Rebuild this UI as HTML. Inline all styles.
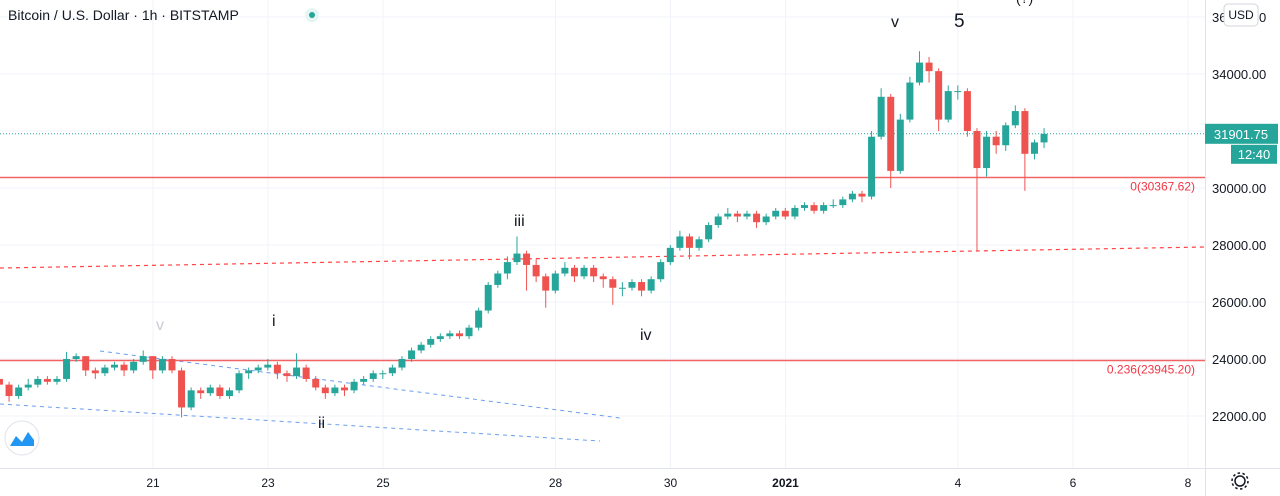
<!DOCTYPE html>
<html><head><meta charset="utf-8"><style>
body{margin:0;background:#fff;font-family:"Liberation Sans",sans-serif;}
svg{display:block}
</style></head><body>
<svg id="chart" width="1280" height="496" viewBox="0 0 1280 496" xmlns="http://www.w3.org/2000/svg">
<rect x="0" y="0" width="1280" height="496" fill="#fff"/>
<g id="grid"></g>
<g id="lines"></g>
<g id="candles"></g>
<g id="axis"></g>
<g id="xaxis"></g>
<text x="8" y="20" font-size="14" fill="#131722">Bitcoin / U.S. Dollar · 1h · BITSTAMP</text>
<circle cx="312" cy="15" r="7" fill="#e6f6f3"/>
<circle cx="312" cy="15" r="3" fill="#26a69a"/>
<g font-size="16" fill="#131722">
<text x="156" y="330" fill="#c8ccd4">v</text>
<text x="272" y="326">i</text>
<text x="318" y="428">ii</text>
<text x="514" y="226">iii</text>
<text x="640" y="340">iv</text>
<text x="891" y="27">v</text>
<text x="954" y="27" font-size="19">5</text>
<text x="1016" y="3" font-size="14">(?)</text>
</g>
<g>
<circle cx="22" cy="438" r="17" fill="#fff" stroke="#e0e3eb"/>
<path d="M10 446 L16 436 L22 442 L28 432 L34 440 L34 446 Z" fill="#2196f3"/>
</g>
<rect x="1224" y="4" width="34" height="22" rx="4" fill="#fff" stroke="#d1d4dc"/>
<text x="1241" y="19" font-size="12" text-anchor="middle" fill="#131722">USD</text>
<g>
<circle cx="1240" cy="481" r="5" fill="none" stroke="#131722" stroke-width="1.5"/>
<circle cx="1240" cy="481" r="8" fill="none" stroke="#131722" stroke-width="1.5" stroke-dasharray="2.5 2.5"/>
</g>
</svg>
<script>
const priceTicks=[22000,24000,26000,28000,30000,32000,34000,36000];
const dateLabels=["21","23","25","28","30","2021","4","6","8"];
const dateDays=[21,23,25,28,30,32,35,37,39];
const closes=[23100,22700,23000,23100,23300,23200,23300,24000,24100,23600,23500,23700,23800,23600,23900,24100,23600,24000,23600,22300,22900,22800,23000,22700,22900,23500,23600,23700,23800,23500,23400,23700,23300,23000,22800,23000,22900,23200,23300,23500,23500,23700,24000,24300,24500,24700,24800,24900,24800,25100,25700,26600,27000,27400,27700,27300,26900,26400,27000,27200,26900,27200,26900,26800,26500,26500,26700,26400,26800,27400,27900,28300,27900,28200,28700,29000,29100,29000,29100,28800,29000,29200,29000,29300,29400,29200,29400,29400,29600,29800,29700,31800,33200,30600,32400,33700,34400,34100,32400,33400,33400,32000,30700,31800,31500,32200,32700,31200,31600,31900];
const highs=[23400,23200,23100,23300,23400,23400,23400,24250,24200,24100,23700,23800,23900,23900,24000,24300,24100,24100,24100,23700,23000,23000,23100,23100,23000,23600,23700,23800,24000,23900,23600,24200,23800,23400,23100,23100,23100,23300,23400,23600,23600,23800,24100,24400,24600,24800,24900,25000,25000,25200,25800,26700,27100,27600,28300,27800,27500,27000,27100,27400,27300,27300,27300,27000,26900,26700,26800,26800,26900,27500,28000,28500,28400,28300,28800,29100,29300,29200,29200,29200,29100,29300,29300,29400,29500,29500,29500,29600,29700,29900,29900,32000,33500,33300,32600,33900,34800,34600,34200,33600,33600,33500,32100,32000,32000,32300,32900,32800,31700,32100];
const lows=[22900,22500,22600,22900,23000,23100,23100,23200,23900,23400,23300,23400,23600,23400,23500,23800,23300,23500,23500,21950,22200,22600,22700,22600,22600,22800,23300,23500,23600,23300,23200,23300,23200,22900,22600,22700,22700,22800,23100,23200,23300,23400,23600,23900,24200,24400,24600,24700,24700,24700,25000,25600,26500,26800,27300,26400,26700,25800,26300,26900,26700,26800,26700,26500,25900,26200,26400,26200,26300,26700,27300,27800,27500,27800,28100,28600,28900,28800,28900,28600,28700,28900,28900,28900,29200,29100,29100,29300,29300,29500,29500,29600,31700,30000,30500,32300,33600,33700,32000,32300,33100,31800,27800,30400,31200,31300,32100,29900,31000,31400];

const NS="http://www.w3.org/2000/svg";
const PLOT_R=1205;
function yOf(p){return 188-(p-30000)*57/2000;}
function xOfDay(d){return 153+(d-21)*57.5;}
const startDay=18.33, step=1/6;
function xOfIdx(i){return xOfDay(startDay+i*step);}
function el(tag,attrs,parent){const e=document.createElementNS(NS,tag);for(const k in attrs)e.setAttribute(k,attrs[k]);parent.appendChild(e);return e;}

const grid=document.getElementById('grid');
const axis=document.getElementById('axis');
const xaxis=document.getElementById('xaxis');
priceTicks.forEach(p=>{
  const y=yOf(p);
  const g=el('line',{x1:0,x2:PLOT_R,y1:y,y2:y,stroke:'#f0f3fa','stroke-width':1},grid);
  
  
  const t=el('text',{x:1212,y:y+5,'font-size':13,fill:'#131722'},axis);
  t.textContent=p.toFixed(2);
  
  
});
dateDays.forEach((d,i)=>{
  const x=xOfDay(d);
  const g=el('line',{x1:x,x2:x,y1:0,y2:468,stroke:'#f0f3fa','stroke-width':1},grid);
  
  
  const t=el('text',{x:x,y:487,'font-size':12,fill:'#131722','text-anchor':'middle','font-weight':dateLabels[i]==='2021'?'bold':'normal'},xaxis);
  t.textContent=dateLabels[i];
  
  
});
const ax=el('line',{x1:PLOT_R+0.5,x2:PLOT_R+0.5,y1:0,y2:496,stroke:'#e0e3eb'},axis);


const bx=el('line',{x1:0,x2:1280,y1:468.5,y2:468.5,stroke:'#e0e3eb'},axis);



const lines=document.getElementById('lines');
function ln(a,name){const e=el('line',a,lines);return e;}
ln({x1:0,y1:268,x2:PLOT_R,y2:247,stroke:'#f44','stroke-width':1.2,'stroke-dasharray':'4 4'},'dashed-trendline-red');
ln({x1:100,y1:351,x2:620,y2:418,stroke:'#6b9ef0','stroke-width':1,'stroke-dasharray':'4 4'},'wedge-upper-line');
ln({x1:0,y1:404,x2:600,y2:441,stroke:'#6b9ef0','stroke-width':1,'stroke-dasharray':'4 4'},'wedge-lower-line');
const fib0=30367.62, fib236=23945.20, last=31901.75;
ln({x1:0,y1:yOf(fib0),x2:PLOT_R,y2:yOf(fib0),stroke:'#f26464','stroke-width':1.5},'fib-level-0');
ln({x1:0,y1:yOf(fib236),x2:PLOT_R,y2:yOf(fib236),stroke:'#f26464','stroke-width':1.5},'fib-level-0236');
ln({x1:0,y1:yOf(last),x2:PLOT_R,y2:yOf(last),stroke:'#26a69a','stroke-width':1,'stroke-dasharray':'1 2'},'last-price-line');
function lbl(x,y,txt,name){const t=el('text',{x:x,y:y,'font-size':12,fill:'#f23645','text-anchor':'end'},lines);t.textContent=txt;}
lbl(1195,yOf(fib0)+13,'0('+fib0.toFixed(2)+')','fib-0-label');
lbl(1195,yOf(fib236)+13,'0.236('+fib236.toFixed(2)+')','fib-0236-label');

const cg=document.getElementById('candles');
let prev=23300;
closes.forEach((c,i)=>{
  const o=prev; prev=c;
  const x=xOfIdx(i);
  const col=c>=o?'#26a69a':'#ef5350';
  const w=el('line',{x1:x,x2:x,y1:yOf(highs[i]),y2:yOf(lows[i]),stroke:col,'stroke-width':1},cg);
  
  
  const top=yOf(Math.max(o,c)), bot=yOf(Math.min(o,c));
  const b=el('rect',{x:x-3.5,y:top,width:7,height:Math.max(1,bot-top),fill:col},cg);
  
  
});

const yl=yOf(last);
const pb=el('rect',{x:1205,y:yl-10,width:73,height:20,fill:'#26a69a'},axis);


const pt=el('text',{x:1241,y:yl+5,'font-size':13,fill:'#fff','text-anchor':'middle'},axis);
pt.textContent=last.toFixed(2);


const cb=el('rect',{x:1231,y:yl+11,width:46,height:19,fill:'#26a69a'},axis);


const ct=el('text',{x:1254,y:yl+25,'font-size':13,fill:'#fff','text-anchor':'middle'},axis);
ct.textContent='12:40';


</script>
</body></html>
